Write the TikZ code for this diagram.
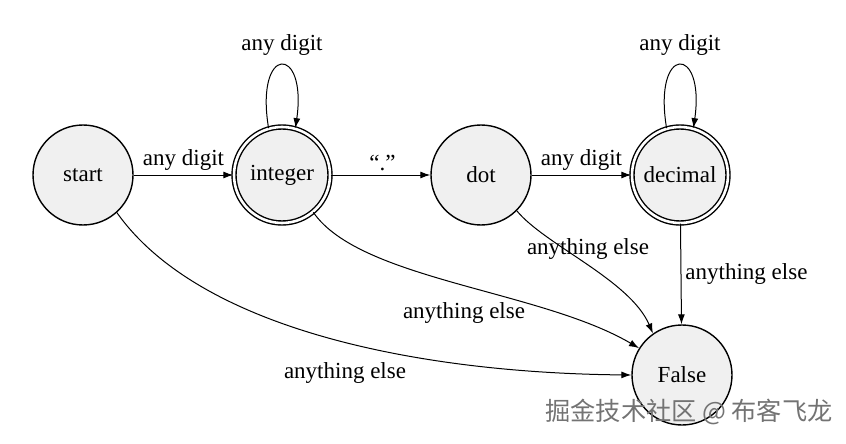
\documentclass[tikz,border=0pt]{standalone}
\usepackage{fontspec}
\setmainfont{Liberation Serif}
\newfontfamily\cjk{Noto Sans CJK SC}
\usetikzlibrary{arrows.meta}
\begin{document}
\begin{tikzpicture}[x=0.5pt,y=0.5pt,
  every node/.style={font=\rmfamily\fontsize{11.5}{13}\selectfont},
  state/.style={circle,draw,line width=0.7pt,fill=black!6,minimum size=50pt,inner sep=0pt,font=\rmfamily\fontsize{11.5}{13}\selectfont},
  accept/.style={state,double,double distance=1.3pt,minimum size=48pt},
  edge/.style={line width=0.5pt,-{Latex[length=5pt,width=3.5pt]}},
  lbl/.style={inner sep=2pt}]
\useasboundingbox (0,0) rectangle (846,-444);
\node[state]  (start)   at (83,-175)  {start};
\node[accept] (integer) at (282,-175) {integer};
\node[state]  (dot)     at (481,-175) {dot};
\node[accept] (decimal) at (680,-175) {decimal};
\node[state]  (false)   at (682,-375) {False};

\draw[edge] (start) -- node[lbl,above,pos=0.5] {any digit} (integer);
\draw[edge] (integer) -- node[lbl,above,pos=0.52] {“.”} (dot);
\draw[edge] (dot) -- node[lbl,above,pos=0.5] {any digit} (decimal);

\draw[edge] (integer.106) .. controls +(-14,84) and +(12,84) .. (integer.74);
\node[lbl] (l1) at (282,-45) {any digit};
\draw[edge] (decimal.106) .. controls +(-14,84) and +(12,84) .. (decimal.74);
\node[lbl] (l2) at (680,-45) {any digit};

\draw[edge] (decimal) -- node[lbl,right,pos=0.5] {anything else} (false);
\draw[edge] (dot.-45) .. controls (545,-245) and (630,-280) .. (false.125);
\node[lbl] (l3) at (588,-249) {anything else};
\draw[edge] (integer.-50) .. controls (360,-280) and (540,-290) .. (false.148);
\node[lbl] (l4) at (464,-313) {anything else};
\draw[edge] (start.-48) .. controls (200,-330) and (420,-373) .. (false.west);
\node[lbl] (l5) at (345,-373) {anything else};

\node[text=black!55,font=\cjk\fontsize{12.6}{14}\selectfont] (wm) at (689,-412) {掘金技术社区 @ 布客飞龙};
\end{tikzpicture}
\end{document}
